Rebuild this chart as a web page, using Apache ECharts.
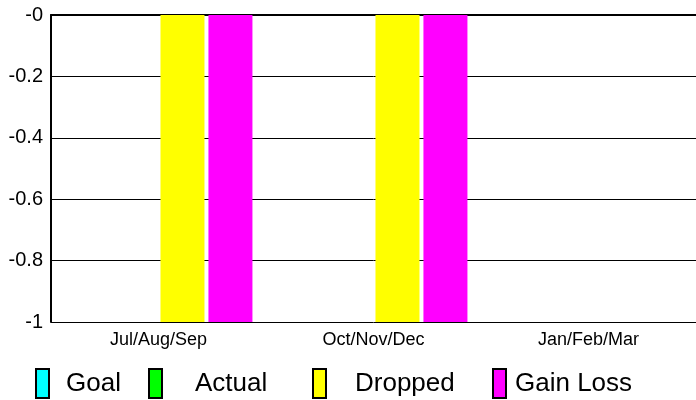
<!DOCTYPE html>
<html>
<head>
<meta charset="utf-8">
<script src="https://cdn.jsdelivr.net/npm/echarts@6/dist/echarts.min.js"></script>
<style>html,body{margin:0;padding:0;background:#fff;}#c{width:696px;height:400px;}</style>
</head>
<body>
<div id="c"></div>
<script>
var categories = ['Jul/Aug/Sep', 'Oct/Nov/Dec', 'Jan/Feb/Mar'];
var seriesNames = ['Goal', 'Actual', 'Dropped', 'Gain Loss'];
var goalValues = [null, null, null];
var actualValues = [null, null, null];
var droppedValues = [-1, -1, null];
var gainLossValues = [-1, -1, null];
var yTickLabels = ['-1', '-0.8', '-0.6', '-0.4', '-0.2', '-0'];

var colors = ['#00ffff', '#00ff00', '#ffff00', '#ff00ff'];
var seriesData = [goalValues, actualValues, droppedValues, gainLossValues];
var legendLeft = [35, 148, 312, 492];
var legendPad = [12, 28, 24, 4];
var FONT = 'Liberation Sans, Arial, sans-serif';

var chart = echarts.init(document.getElementById('c'), null, {renderer: 'canvas'});
var option = {
  animation: false,
  backgroundColor: '#fff',
  grid: {left: 51, right: 0, top: 15, bottom: 78, containLabel: false},
  legend: seriesNames.map(function (n, i) {
    return {
      data: [n],
      left: legendLeft[i],
      top: 368,
      padding: 0,
      itemWidth: 13,
      itemHeight: 29,
      icon: 'rect',
      itemStyle: {borderColor: '#000', borderWidth: 2},
      textStyle: {fontFamily: FONT, fontSize: 26, color: '#000', padding: [0, 0, 0, legendPad[i]]},
      selectedMode: false
    };
  }),
  xAxis: {
    type: 'category',
    data: categories,
    axisLine: {lineStyle: {color: '#000', width: 2}},
    axisTick: {show: false},
    axisLabel: {fontFamily: FONT, fontSize: 18, color: '#000', margin: 9}
  },
  yAxis: {
    type: 'value',
    min: -1,
    max: 0,
    interval: 0.2,
    axisLine: {show: true, lineStyle: {color: '#000', width: 2}},
    axisTick: {show: false},
    splitLine: {lineStyle: {color: '#000', width: 1}},
    axisLabel: {
      fontFamily: FONT, fontSize: 20, color: '#000', margin: 8,
      formatter: function (v) {
        var idx = Math.round((v + 1) / 0.2);
        return yTickLabels[idx];
      }
    }
  },
  series: seriesNames.map(function (n, i) {
    return {
      name: n,
      type: 'bar',
      data: seriesData[i],
      barWidth: 44,
      barGap: '9%',
      itemStyle: {color: colors[i]}
    };
  })
};
chart.setOption(option);
</script>
</body>
</html>
